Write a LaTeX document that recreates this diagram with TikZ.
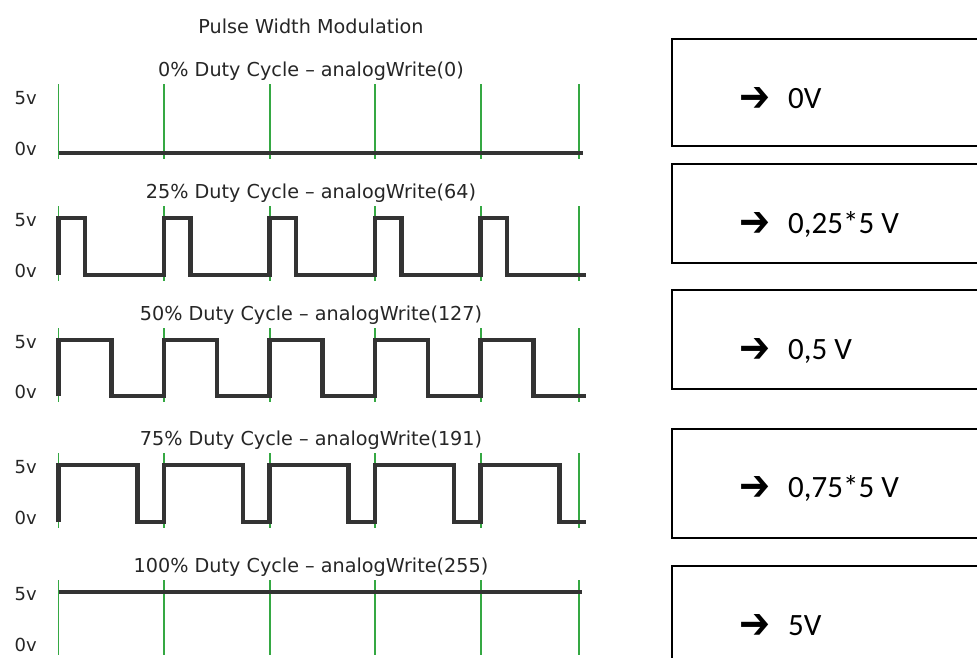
\documentclass[tikz,border=0pt]{standalone}
\usepackage{fontspec}
\setmainfont{DejaVu Sans}
\newfontfamily\calibri{Carlito}
\newfontfamily\dingfont{DejaVu Sans}
\usepackage{graphicx}
\usepackage{xcolor}
\usepackage{tikz}
\usetikzlibrary{positioning}
\definecolor{wavegray}{HTML}{333333}
\definecolor{textgray}{HTML}{262626}
\definecolor{tickgreen}{HTML}{35A843}

\begin{document}
\begin{tikzpicture}[
    x=1pt, y=-1pt,
    rowtitle/.style={anchor=base, text=textgray, inner sep=0pt,
                     font=\fontsize{19.2}{23}\selectfont},
    level/.style={anchor=east, text=textgray, inner sep=0pt,
                  font=\fontsize{18}{21}\selectfont},
    tick/.style={draw=tickgreen, line width=1.6pt},
    wave/.style={draw=wavegray, line width=4.5pt, line join=miter},
    outbox/.style={draw=black, line width=1.3pt, anchor=north west,
                   minimum width=400pt, inner sep=0pt, outer sep=0pt},
    valtext/.style={anchor=base west, inner sep=0pt,
                    font=\calibri\fontsize{31}{37}\selectfont}
]
    \useasboundingbox (0,0) rectangle (977,657);
    \clip (0,0) rectangle (977,657);
    \fill[white] (0,0) rectangle (977,657);

    \node[rowtitle] (pwm) at (311,33) {Pulse Width Modulation};
    \foreach \r/\hi/\lo/\pct/\val in {0/96/153/0/0, 1/218/275/25/64,
        2/340/396/50/127, 3/465/522/75/191, 4/592/649/100/255}{
        \node[rowtitle] (title\r) at (311,\hi-20) {\pct\% Duty Cycle – analogWrite(\val)};
        \node[level] (high\r) at (37,\hi+2.5) {5v};
        \node[level] (low\r) at (37,\lo-4) {0v};
        \foreach \x in {58.5,164,270,375,481,579}
            \draw[tick] (\x,\hi-12) -- (\x,\lo+6);
    }

    \draw[wave] (58.5,153) -- (583,153);
    \draw[wave] (58.5,592) -- (582,592);
    \foreach \hi/\lo/\dc in {218/275/0.25, 340/396/0.5, 465/522/0.75}
        \draw[wave] (58.5,\lo) \foreach \k in {0,...,4}{
            -- (58.5+\k*105.5,\hi) -- (58.5+\k*105.5+\dc*105.5,\hi)
            -- (58.5+\k*105.5+\dc*105.5,\lo) -- (58.5+\k*105.5+105.5,\lo)};

    \foreach \r/\top/\bh/\base/\txt in {0/39/107/108/0V, 1/164/99/233/{0,25*5 V},
        2/290/99/359/{0,5 V}, 3/429/109/497/{0,75*5 V}, 4/566/200/635/5V}{
        \node[outbox, minimum height=\bh pt] (out\r) at (672,\top) {};
        \node[valtext] (val\r) at (739,\base)
            {\raisebox{-3pt}{\resizebox{31pt}{24pt}{\dingfont\bfseries ➔}}\hspace{18pt}\txt};
    }
\end{tikzpicture}
\end{document}
